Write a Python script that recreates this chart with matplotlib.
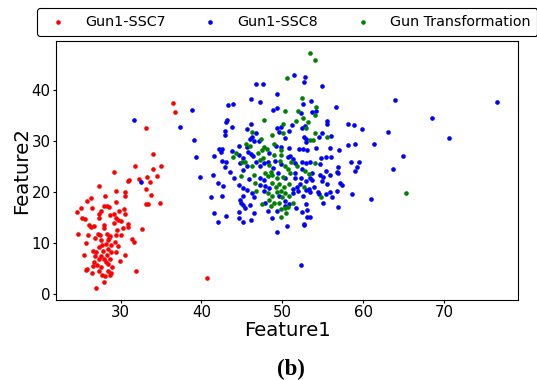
import matplotlib
matplotlib.use("Agg")
import matplotlib.pyplot as plt

red_x = [36.5,36.8,33.2,34.0,31.8,35.0,34.0,29.2,34.5,33.3,31.0,30.9,32.3,33.7,27.4,33.2,29.5,30.5,28.1,33.8,26.3,30.5,25.9,33.1,33.4,34.9,29.5,28.0,28.3,28.6,25.1,26.5,30.4,24.6,27.6,29.8,27.4,29.2,28.7,30.5,25.2,25.6,29.5,29.7,27.3,30.1,26.1,26.7,27.9,30.9,26.3,27.9,30.9,29.2,30.3,29.6,32.6,24.7,26.0,27.2,27.5,28.3,28.7,29.5,30.0,26.8,28.6,31.4,27.6,28.5,29.3,25.7,27.7,31.7,28.2,28.8,29.7,27.3,28.4,26.6,27.0,27.8,28.8,29.5,25.5,30.6,26.8,27.6,28.3,27.3,28.0,28.7,26.7,28.2,29.9,27.1,28.5,29.0,25.7,25.9,26.6,27.6,26.5,27.3,28.4,28.8,31.9,27.7,28.7,28.1,27.9,27.0,40.7]
red_y = [37.4,35.6,32.5,27.5,25.0,25.0,24.5,23.9,23.1,22.9,22.3,22.2,22.5,21.9,21.2,20.5,20.1,20.0,19.2,19.3,18.8,19.1,18.2,17.6,17.6,17.8,18.0,17.3,17.2,17.1,16.9,16.8,16.7,16.1,16.3,16.3,15.7,15.7,15.4,15.7,14.8,14.6,14.9,14.4,14.8,14.3,13.4,13.3,13.5,13.7,13.1,12.9,13.1,13.8,12.9,12.5,12.6,11.8,11.5,11.8,11.5,11.8,11.4,11.5,11.6,11.0,11.0,10.8,10.5,10.5,10.2,9.9,9.5,10.1,9.7,9.5,9.3,9.2,8.8,8.3,8.2,8.4,8.2,8.1,7.6,7.5,7.3,7.3,7.6,6.8,6.9,6.9,6.3,6.2,6.4,5.6,5.8,5.3,4.7,4.8,5.4,5.2,4.1,4.5,4.5,4.1,4.4,3.6,3.7,3.4,2.2,1.1,3.0]

blue_x = [31.7,37.4,32.5,
  51.5,46.7,47.6,49.3,46.2,47.3,43.9,43.3,38.8,49.4,48.9,43.2,43.0,46.2,43.8,49.9,45.6,42.9,49.3,51.2,46.7,49.6,50.9,50.4,42.9,46.3,46.0,39.1,46.5,47.1,44.6,45.6,49.2,49.9,50.8,42.2,42.5,43.8,42.4,45.8,46.1,48.4,51.0,39.3,41.6,44.7,45.1,46.4,50.7,51.4,
  42.6,43.0,44.8,45.7,46.7,47.7,48.3,49.1,49.9,51.6,42.9,45.1,47.3,48.9,49.5,51.6,43.5,39.8,41.4,44.0,45.9,47.2,47.7,50.4,51.6,42.1,42.7,44.7,45.2,47.2,47.9,48.4,51.3,51.8,45.7,46.3,47.7,51.4,51.9,41.2,42.6,46.5,45.2,44.8,49.6,50.3,44.9,45.2,45.4,46.0,47.9,50.3,50.9,51.7,46.5,44.6,48.2,49.4,41.6,43.0,48.7,44.6,46.1,45.1,42.1,50.6,49.3,
  52.8,52.7,54.9,64.0,76.6,53.6,52.6,56.6,52.3,53.7,54.2,68.5,55.6,55.6,58.2,58.9,59.9,52.4,52.8,63.1,54.9,54.6,56.0,70.6,52.7,52.9,52.9,61.4,58.2,59.0,52.1,52.6,53.1,54.2,55.9,57.0,64.9,55.4,56.1,54.8,
  52.5,53.5,54.7,53.0,58.5,59.5,56.9,59.2,63.7,52.4,53.7,55.4,56.8,56.9,59.0,55.9,54.7,55.1,52.3,53.4,53.7,52.9,54.9,55.6,57.1,57.4,52.2,53.9,53.3,52.9,53.5,54.4,55.9,56.8,58.6,55.4,54.6,52.6,56.2,61.0,55.0,52.9,56.9,52.5,53.1,53.1,53.5,52.7,52.7,52.3]
blue_y = [34.2,32.7,21.9,
  43.0,41.2,41.2,39.3,38.2,37.6,37.3,37.0,36.0,36.5,36.1,34.1,33.7,33.3,32.7,32.7,32.4,32.0,32.5,33.2,31.6,31.7,32.0,30.5,31.2,30.8,30.3,30.1,29.9,29.9,28.9,28.8,28.9,28.8,28.6,28.5,28.4,28.0,27.8,27.8,27.5,27.6,27.1,26.9,27.0,27.2,26.7,27.1,26.8,26.5,
  26.1,25.8,25.6,25.1,25.8,25.6,25.8,26.1,25.4,25.6,24.8,24.3,25.0,24.6,23.7,23.7,23.8,22.9,23.3,22.7,22.6,22.7,22.4,22.7,22.7,21.7,21.2,21.4,20.8,21.4,21.2,20.7,20.5,21.0,20.3,19.7,20.1,19.7,20.1,19.0,19.1,19.0,19.1,18.3,19.1,18.1,17.9,17.5,16.8,17.5,17.9,17.3,17.6,16.8,15.9,16.1,16.3,16.3,15.8,15.2,14.8,14.8,14.4,14.0,14.0,13.3,12.2,
  42.5,41.6,40.8,38.0,37.6,37.8,37.3,36.6,35.5,35.7,35.8,34.4,33.9,33.3,33.3,33.1,32.4,32.5,33.0,31.8,31.5,30.8,31.0,30.6,30.7,30.3,29.7,29.3,29.2,29.3,28.4,28.5,28.2,28.6,28.6,28.2,27.1,26.9,26.9,26.7,
  25.9,25.9,25.4,25.7,25.9,25.9,24.8,24.8,24.4,24.4,23.6,24.1,23.9,23.6,24.1,23.4,23.3,22.9,22.7,22.7,22.4,22.1,22.2,21.6,21.8,21.4,21.6,21.0,20.5,20.3,20.0,20.0,20.0,20.2,19.6,19.5,19.5,19.2,19.0,18.6,17.9,17.6,17.1,16.1,16.4,15.0,15.1,13.7,13.4,5.6]

green_x = [50.6,50.4,47.7,50.1,51.7,46.3,48.8,50.1,47.4,45.5,49.0,46.0,47.8,48.1,47.5,49.9,44.3,47.0,49.9,49.0,43.9,47.6,
  45.0,45.4,47.2,48.4,49.7,50.4,51.1,51.8,46.3,47.9,48.6,50.7,51.0,44.9,46.5,48.2,48.8,49.3,50.1,46.6,48.8,49.2,49.6,50.2,50.8,46.7,48.2,49.3,49.8,50.4,50.8,48.8,48.4,50.0,51.3,49.0,47.5,49.6,48.6,50.7,49.9,50.4,50.5,49.8,
  53.4,54.1,52.4,54.2,52.0,54.0,52.6,53.2,52.9,54.0,55.6,53.4,53.8,
  54.0,52.8,53.3,52.7,65.3,54.8]
green_y = [42.4,35.9,34.2,33.3,34.0,31.7,31.2,31.5,30.3,29.3,29.4,29.0,28.8,28.5,28.2,28.2,27.6,27.6,27.2,27.3,26.8,26.7,
  25.8,25.8,26.3,25.2,26.0,25.1,25.8,25.0,25.0,23.7,23.9,24.4,23.7,23.2,23.3,23.1,23.3,22.7,23.0,21.7,21.7,21.0,21.5,21.0,21.5,20.1,19.7,19.9,20.1,19.7,19.2,19.1,18.3,19.0,17.9,17.8,17.6,17.8,17.3,17.1,16.6,16.8,15.9,15.0,
  47.3,45.9,38.4,36.6,35.9,35.0,34.5,33.7,32.5,31.6,30.7,30.1,30.2,
  25.7,24.1,23.5,21.0,19.7,18.9]

labels = ["Gun1-SSC7", "Gun1-SSC8", "Gun Transformation"]

fig = plt.figure(figsize=(5.37, 3.80), dpi=100)
ax = fig.add_axes([0.104, 0.211, 0.861, 0.681])
ax.scatter(red_x, red_y, s=11, c="red", label=labels[0], linewidths=0)
ax.scatter(blue_x, blue_y, s=11, c="blue", label=labels[1], linewidths=0)
ax.scatter(green_x, green_y, s=11, c="green", label=labels[2], linewidths=0)

ax.set_xticks([30, 40, 50, 60, 70])
ax.set_yticks([0, 10, 20, 30, 40])
ax.tick_params(labelsize=10.8, length=2.5, pad=1.2)
ax.set_xlabel("Feature1", fontsize=14.2, labelpad=1)
ax.set_ylabel("Feature2", fontsize=14.2, labelpad=0)

leg = ax.legend(loc="lower center", bbox_to_anchor=(0.5, 1.019), ncol=3,
                fontsize=10.3, frameon=True, fancybox=True, edgecolor="black",
                framealpha=1, handletextpad=0.9, columnspacing=2.1,
                borderpad=0.5, borderaxespad=0, markerscale=1.0)
leg.get_frame().set_linewidth(0.8)

fig.text(0.542, 0.012, "(b)", ha="center", va="baseline",
         fontsize=16.5, fontweight="bold", family="Liberation Serif")

fig.savefig("out.png", dpi=100)
